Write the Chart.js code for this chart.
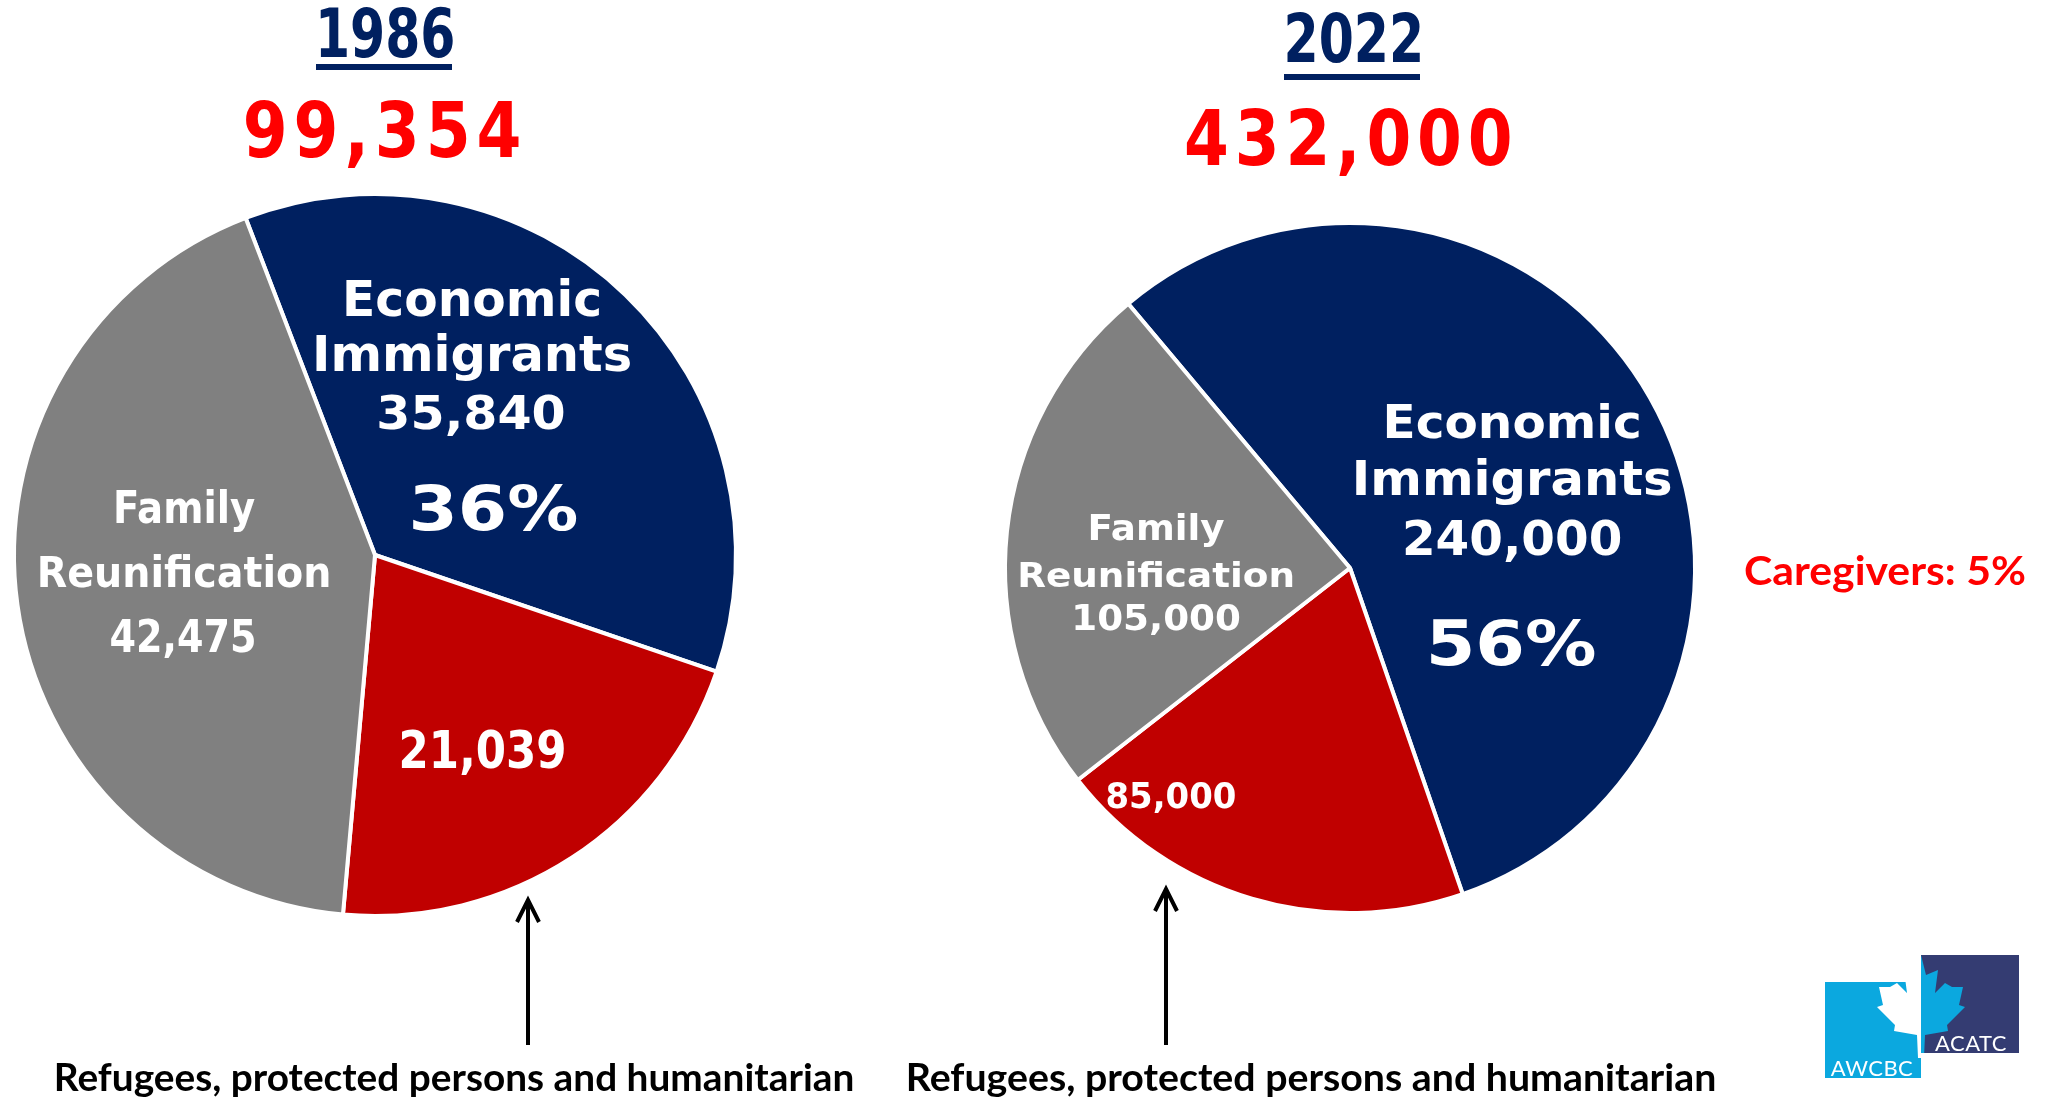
<!DOCTYPE html>
<html>
<head>
<meta charset="utf-8">
<title>Immigration to Canada by category, 1986 and 2022</title>
<script src="https://cdn.jsdelivr.net/npm/chart.js@4.4.1/dist/chart.umd.min.js"></script>
<style>
  html, body { margin: 0; padding: 0; background: #fff; }
  #page { position: relative; width: 2056px; height: 1097px; overflow: hidden; background: #fff; }
  .chartbox { position: absolute; }
  .txt { position: absolute; white-space: nowrap; margin: 0; padding: 0; }
  .bar { position: absolute; background: #002060; }
  #overlay { position: absolute; left: 0; top: 0; }
</style>
</head>
<body>
<div id="page">
  <div class="chartbox" style="left:5px; top:185px; width:740px; height:740px;">
    <canvas id="pie1986" width="740" height="740"></canvas>
  </div>
  <div class="chartbox" style="left:990px; top:208px; width:720px; height:720px;">
    <canvas id="pie2022" width="720" height="720"></canvas>
  </div>

  <!-- year underlines -->
  <div class="bar" style="left:316px; top:64px; width:136px; height:6px;"></div>
  <div class="bar" style="left:1284px; top:74px; width:136px; height:6px;"></div>

  <svg id="overlay" width="2056" height="1097" xmlns="http://www.w3.org/2000/svg">
    <defs>
      <clipPath id="clipLight"><rect x="1825" y="982" width="96" height="96"/></clipPath>
      <clipPath id="clipDark"><rect x="1921" y="955" width="98" height="98"/></clipPath>
    </defs>
    <!-- arrows pointing at the refugee slices -->
    <g stroke="#000" stroke-width="4" fill="none" stroke-linecap="butt" stroke-linejoin="miter">
      <line x1="528" y1="1045" x2="528" y2="902"/>
      <polyline points="517,922 528,900 539,922"/>
      <line x1="1166" y1="1045" x2="1166" y2="891"/>
      <polyline points="1155,911 1166,889 1177,911"/>
    </g>
    <!-- association logo -->
    <rect x="1825" y="982" width="96" height="96" fill="#0BA8DF"/>
    <rect x="1921" y="955" width="98" height="98" fill="#343C72"/>
    <g id="leafGroup"></g>
    <text x="1872" y="1076" text-anchor="middle" fill="#fff" font-family="Lato, 'Open Sans', sans-serif" font-size="22" letter-spacing="0.5">AWCBC</text>
    <text x="1971" y="1051" text-anchor="middle" fill="#fff" font-family="Lato, 'Open Sans', sans-serif" font-size="22" letter-spacing="0.5">ACATC</text>
  </svg>
</div>

<script>
// ---- data ----
const categories = ['Economic Immigrants', 'Refugees, protected persons and humanitarian', 'Family Reunification'];
const years = ['1986', '2022'];
const totals = [99354, 432000];
const values1986 = [35840, 21039, 42475];
const values2022 = [240000, 85000, 105000];
const caregiverShare = 5;

// ---- styling ----
const NAVY = '#002060';
const RED = '#C00000';
const GRAY = '#808080';
const BRIGHT_RED = '#FF0000';
const sliceColors = [NAVY, RED, GRAY];

const fmt = v => v.toLocaleString('en-US');
const pct = (v, total) => Math.round(v / total * 100) + '%';
const econWords = categories[0].split(' ');
const familyWords = categories[2].split(' ');

// ---- DOM text placed by ink centre and baseline ----
const mctx = document.createElement('canvas').getContext('2d');
function placeText(text, font, color, cx, baseline, inkWidth, spacing) {
  spacing = spacing || 0;
  mctx.font = font;
  const m = mctx.measureText(text);
  const asc = m.fontBoundingBoxAscent, desc = m.fontBoundingBoxDescent;
  const ink = m.actualBoundingBoxLeft + m.actualBoundingBoxRight + spacing * (text.length - 1);
  const inkMid = (m.actualBoundingBoxRight + spacing * (text.length - 1) - m.actualBoundingBoxLeft) / 2;
  const s = inkWidth ? inkWidth / ink : 1;
  const el = document.createElement('div');
  el.className = 'txt';
  el.textContent = text;
  el.style.font = font;
  el.style.letterSpacing = spacing + 'px';
  el.style.color = color;
  el.style.lineHeight = (asc + desc) + 'px';
  el.style.left = (cx - inkMid) + 'px';
  el.style.top = (baseline - asc) + 'px';
  el.style.transformOrigin = inkMid + 'px 0';
  el.style.transform = 'scaleX(' + s + ')';
  document.getElementById('page').appendChild(el);
}

const yearFont = 'bold 67px "Liberation Sans Narrow", "DejaVu Sans Condensed", "Liberation Sans", sans-serif';
const totalFont = 'bold 77px "DejaVu Sans", sans-serif';
const noteFont = 'bold 38px Lato, "Open Sans", sans-serif';

placeText(years[0], yearFont, NAVY, 386, 57, 133);
placeText(years[1], yearFont, NAVY, 1353, 62, 133);
placeText(fmt(totals[0]), totalFont, BRIGHT_RED, 382, 157, 274, 7);
placeText(fmt(totals[1]), totalFont, BRIGHT_RED, 1348, 165, 323, 7);
placeText(categories[1], noteFont, '#000', 455, 1091, 796);
placeText(categories[1], noteFont, '#000', 1312, 1091, 806);
placeText('Caregivers: ' + caregiverShare + '%', 'bold 40px Lato, "Open Sans", sans-serif', BRIGHT_RED, 1885, 585, 280);

// ---- maple leaf for the logo ----
(function () {
  const half = [[0,0],[5,20],[17,15],[14,38],[24,28],[31,32],[42,32],[38,50],[44,52],[26,70],[27,76],[4,80],[3,103]];
  const pts = half.concat(half.slice(1).reverse().map(p => [-p[0], p[1]]));
  const d = 'M' + pts.map(p => (1921 + p[0]) + ',' + (955 + p[1])).join(' L') + ' Z';
  const g = document.getElementById('leafGroup');
  g.innerHTML =
    '<path d="' + d + '" fill="#fff" clip-path="url(#clipLight)"/>' +
    '<path d="' + d + '" fill="#0BA8DF" clip-path="url(#clipDark)"/>';
})();

// ---- in-slice labels (offsets in units of the pie radius) ----
const labelFont = '"DejaVu Sans", Verdana, sans-serif';
const sliceLabels = {
  plot1986: [
    { t: econWords[0],          dx: 0.269,  by: -0.662, size: 49, w: 253 },
    { t: econWords[1],          dx: 0.269,  by: -0.510, size: 49, w: 314 },
    { t: fmt(values1986[0]),    dx: 0.266,  by: -0.349, size: 46, w: 184 },
    { t: pct(values1986[0], totals[0]), dx: 0.328, by: -0.069, size: 62, w: 164 },
    { t: familyWords[0],        dx: -0.529, by: -0.089, size: 44, w: 138 },
    { t: familyWords[1],        dx: -0.529, by: 0.089,  size: 42, w: 289 },
    { t: fmt(values1986[2]),    dx: -0.532, by: 0.269,  size: 44, w: 144 },
    { t: fmt(values1986[1]),    dx: 0.298,  by: 0.590,  size: 52, w: 162 }
  ],
  plot2022: [
    { t: econWords[0],          dx: 0.470,  by: -0.377, size: 47, w: 252 },
    { t: econWords[1],          dx: 0.470,  by: -0.212, size: 48, w: 315 },
    { t: fmt(values2022[0]),    dx: 0.470,  by: -0.038, size: 48, w: 216 },
    { t: pct(values2022[0], totals[1]), dx: 0.467, by: 0.281, size: 62, w: 165 },
    { t: familyWords[0],        dx: -0.562, by: -0.081, size: 35, w: 134 },
    { t: familyWords[1],        dx: -0.562, by: 0.055,  size: 34, w: 272 },
    { t: fmt(values2022[2]),    dx: -0.562, by: 0.180,  size: 35, w: 165 },
    { t: fmt(values2022[1]),    dx: -0.519, by: 0.696,  size: 36, w: 128 }
  ]
};

const sliceLabelPlugin = {
  id: 'sliceLabels',
  afterDatasetsDraw(chart) {
    const list = sliceLabels[chart.options.plugins.sliceLabels.key];
    const arc = chart.getDatasetMeta(0).data[0];
    const cx = arc.x, cy = arc.y, r = arc.outerRadius;
    const ctx = chart.ctx;
    list.forEach(l => {
      ctx.save();
      ctx.font = 'bold ' + l.size + 'px ' + labelFont;
      ctx.fillStyle = '#fff';
      ctx.textAlign = 'center';
      ctx.textBaseline = 'alphabetic';
      const m = ctx.measureText(l.t);
      const ink = m.actualBoundingBoxLeft + m.actualBoundingBoxRight;
      const s = l.w / ink;
      ctx.translate(cx + l.dx * r, cy + l.by * r);
      ctx.scale(s, 1);
      ctx.fillText(l.t, 0, 0);
      ctx.restore();
    });
  }
};

function makePie(id, values, rotation, radius, key) {
  return new Chart(document.getElementById(id), {
    type: 'pie',
    data: {
      labels: categories,
      datasets: [{
        data: values,
        backgroundColor: sliceColors,
        borderColor: '#ffffff',
        borderWidth: 4,
        hoverOffset: 0
      }]
    },
    options: {
      responsive: false,
      animation: false,
      events: [],
      rotation: rotation,
      radius: radius,
      layout: { padding: 0 },
      plugins: {
        legend: { display: false },
        tooltip: { enabled: false },
        sliceLabels: { key: key }
      }
    },
    plugins: [sliceLabelPlugin]
  });
}

makePie('pie1986', values1986, -21, 361, 'plot1986');
makePie('pie2022', values2022, -40, 345, 'plot2022');
</script>
</body>
</html>
